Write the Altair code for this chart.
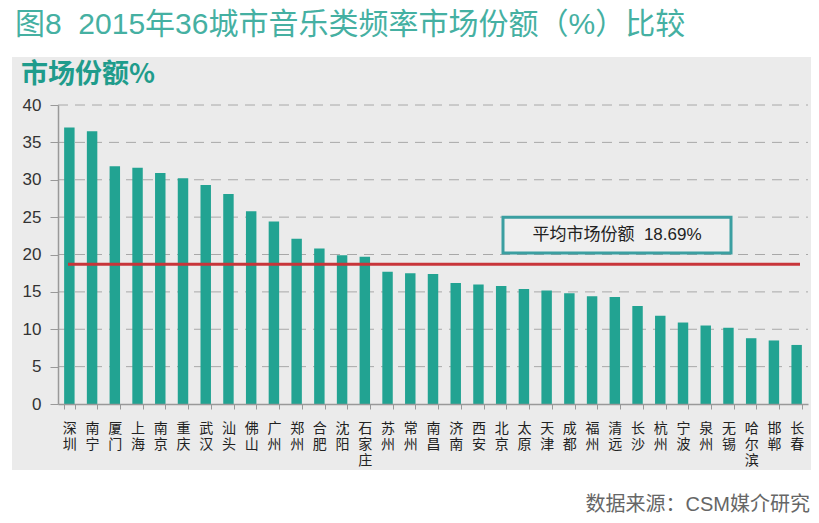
import altair as alt
import pandas as pd

# ---- data ----
cities = ["深圳", "南宁", "厦门", "上海", "南京", "重庆", "武汉", "汕头", "佛山", "广州",
          "郑州", "合肥", "沈阳", "石家庄", "苏州", "常州", "南昌", "济南", "西安", "北京",
          "太原", "天津", "成都", "福州", "清远", "长沙", "杭州", "宁波", "泉州", "无锡",
          "哈尔滨", "邯郸", "长春"]
shares = [37.0, 36.5, 31.8, 31.6, 30.9, 30.2, 29.3, 28.1, 25.8, 24.4,
          22.1, 20.8, 19.9, 19.7, 17.7, 17.5, 17.4, 16.2, 16.0, 15.8,
          15.4, 15.2, 14.8, 14.4, 14.3, 13.1, 11.8, 10.9, 10.5, 10.2,
          8.8, 8.5, 7.9]
avg_share = 18.69
y_ticks = [0, 5, 10, 15, 20, 25, 30, 35, 40]
grid_values = [5, 10, 15, 20, 25, 30, 35, 40]
box_range = [20.2, 25.0]

title_text = "图8\u00a0\u00a02015年36城市音乐类频率市场份额（%）比较"
y_title = "市场份额%"
avg_label = "平均市场份额\u00a0\u00a018.69%"
source_text = "数据来源：CSM媒介研究"

W, H = 750, 299
FONT = "Liberation Sans, Noto Sans CJK SC, sans-serif"
CJK = "Noto Sans CJK SC, sans-serif"
TEAL = "#22a392"

df = pd.DataFrame({"city": cities, "share": shares})
one = pd.DataFrame({"k": [0]})
y_scale = alt.Scale(domain=[0, 40], nice=False, zero=True)
y_axis = alt.Axis(
    title=None, values=y_ticks, grid=False,
    labelFont=FONT, labelFontSize=17, labelColor="#333",
    labelPadding=9, tickSize=8, tickColor="#999",
    domainColor="#999", domainWidth=1.5, zindex=1,
)

panel = alt.Chart(one).mark_rect(color="#ebebeb").encode(
    x=alt.value(-46), x2=alt.value(753), y=alt.value(-48), y2=alt.value(365)
)

grid = alt.Chart(pd.DataFrame({"share": grid_values})).mark_rule(
    color="#a8a8a8", strokeDash=[10, 7], strokeWidth=1
).encode(
    y=alt.Y("share:Q", scale=y_scale, axis=y_axis),
    x=alt.value(0), x2=alt.value(W),
)

bars = alt.Chart(df).mark_bar(color=TEAL).encode(
    x=alt.X(
        "city:N", sort=cities,
        scale=alt.Scale(paddingInner=0.54),
        axis=alt.Axis(
            title=None, labelAngle=0,
            labelExpr="split(datum.label, '')",
            labelFont=CJK, labelFontSize=14, labelColor="#222",
            labelLineHeight=16, labelBaseline="top", labelPadding=12,
            tickBand="extent", tickSize=5, tickColor="#999",
            domainColor="#999", domainWidth=1.5, zindex=1,
        ),
    ),
    y=alt.Y("share:Q", scale=y_scale, axis=y_axis),
)

avg_rule = alt.Chart(pd.DataFrame({"share": [avg_share]})).mark_rule(
    color="#c8353a", strokeWidth=3
).encode(
    y=alt.Y("share:Q", scale=y_scale, axis=y_axis),
    x=alt.value(10), x2=alt.value(742),
)

box = alt.Chart(pd.DataFrame({"share": [box_range[1]], "lo": [box_range[0]]})).mark_rect(
    fill="#efefef", stroke="#3b9fa1", strokeWidth=3
).encode(
    x=alt.value(445), x2=alt.value(673),
    y=alt.Y("share:Q", scale=y_scale, axis=y_axis), y2="lo:Q",
)

box_text = alt.Chart(pd.DataFrame({"share": [sum(box_range) / 2]})).mark_text(
    text=avg_label, font=FONT, fontSize=17, color="#222", align="center", baseline="middle"
).encode(
    x=alt.value(559), y=alt.Y("share:Q", scale=y_scale, axis=y_axis),
)

title = alt.Chart(one).mark_text(
    text=title_text, font=FONT, fontSize=30, color="#45b0a2", align="left", baseline="middle"
).encode(x=alt.value(-43), y=alt.value(-80))

ytitle = alt.Chart(one).mark_text(
    text=y_title, font=CJK, fontSize=27, fontWeight="bold", color="#1f9c8c",
    align="left", baseline="middle"
).encode(x=alt.value(-37), y=alt.value(-30))

source = alt.Chart(one).mark_text(
    text=source_text, font=FONT, fontSize=20, color="#666", align="right", baseline="middle"
).encode(x=alt.value(752), y=alt.value(400))

chart = alt.layer(
    panel, grid, bars, avg_rule, box, box_text, title, ytitle, source
).properties(
    width=W, height=H,
    autosize=alt.AutoSizeParams(type="none"),
    padding={"left": 50, "top": 97, "right": 3, "bottom": 111},
    background="white",
).configure_view(stroke=None)

chart.save("out.html", embed_options={"renderer": "svg", "actions": False})
